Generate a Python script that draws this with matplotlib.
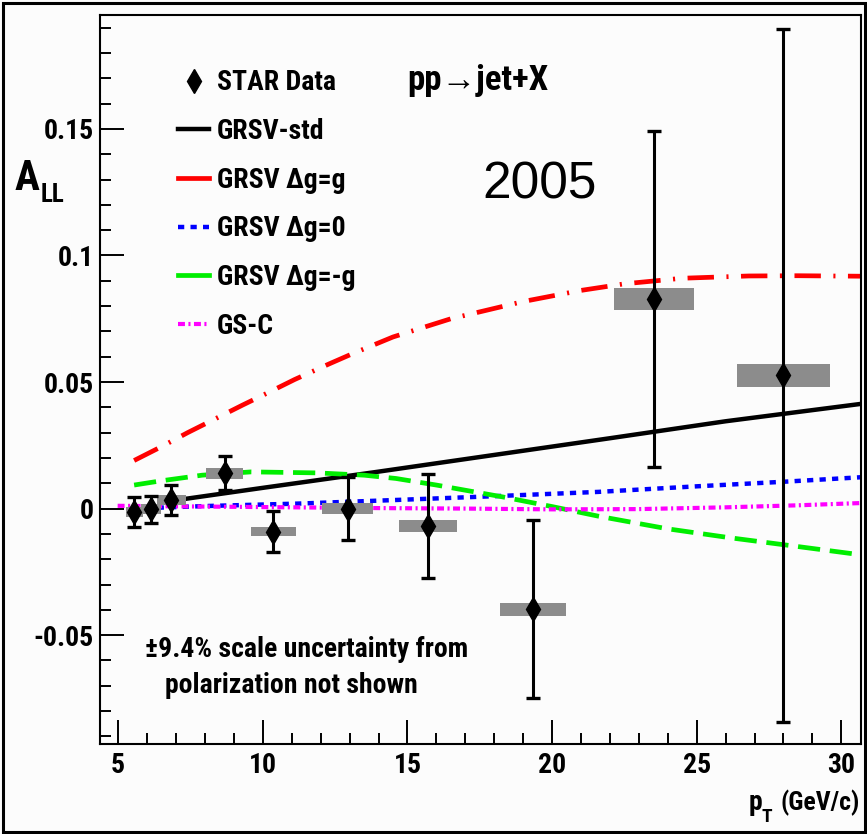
import matplotlib
matplotlib.use("Agg")
import matplotlib.pyplot as plt
from matplotlib.lines import Line2D
from matplotlib.patches import Rectangle
from matplotlib.ticker import MultipleLocator, FuncFormatter

# data
pt = [5.56, 6.14, 6.83, 8.68, 10.36, 12.93, 15.70, 19.34, 23.53, 28.00]
all_vals = [-0.0013, -0.0003, 0.0033, 0.0139, -0.0091, 0.0, -0.0069, -0.0397, 0.0828, 0.0526]
stat_err = [0.0060, 0.0053, 0.0060, 0.0067, 0.0082, 0.0125, 0.0205, 0.0350, 0.0665, 0.1370]
sys_width = [0.6, 0.7, 1.0, 1.3, 1.55, 1.75, 2.0, 2.3, 2.75, 3.2]
sys_err = [0.0020, 0.0020, 0.0020, 0.0021, 0.0018, 0.0022, 0.0025, 0.0026, 0.0042, 0.0044]

std_x = [6.8, 10.0, 14.0, 18.0, 22.0, 26.0, 30.7]
std_y = [0.0030, 0.0082, 0.0146, 0.0212, 0.0278, 0.0345, 0.0414]

max_x = [5.55, 6.5, 7.4, 8.5, 9.3, 10.2, 11.1, 12.3, 13.1, 14.5, 16.5, 19.0, 21.0, 22.5, 24.5, 26.8, 28.5, 30.7]
max_y = [0.0190, 0.0245, 0.0300, 0.0363, 0.0409, 0.0459, 0.0510, 0.0572, 0.0612, 0.0678, 0.0750, 0.0818,
         0.0862, 0.0888, 0.0910, 0.0919, 0.0920, 0.0918]

zero_x = [5.5, 8.0, 11.3, 14.6, 18.0, 21.6, 25.0, 28.0, 30.7]
zero_y = [0.0, 0.0010, 0.0020, 0.0034, 0.0049, 0.0066, 0.0088, 0.0106, 0.0124]

min_x = [5.55, 6.5, 7.9, 9.6, 11.9, 13.5, 14.6, 16.0, 18.3, 20.0, 21.6, 24.0, 26.2, 28.5, 30.7]
min_y = [0.0093, 0.0110, 0.0132, 0.0145, 0.0141, 0.0132, 0.0119, 0.0093, 0.0046, 0.0008, -0.0030,
         -0.0080, -0.0116, -0.0150, -0.0183]

gsc_x = [4.98, 8.0, 11.0, 14.0, 17.0, 20.0, 23.0, 26.0, 28.5, 30.7]
gsc_y = [0.0011, 0.0008, 0.0005, 0.0002, 0.0, -0.0003, -0.0002, 0.0005, 0.0013, 0.0022]

# ROOT-style condensed helvetica bold
bold_fam = ["Roboto Condensed", "Liberation Sans", "DejaVu Sans"]
plt.rcParams["axes.unicode_minus"] = False
plt.rcParams["lines.scale_dashes"] = False

fig = plt.figure(figsize=(8.67, 8.34), dpi=100, facecolor="#fcfcfc")
ax = fig.add_axes([100 / 867, 90 / 834, 761 / 867, 729 / 834])
ax.set_facecolor("#fcfcfc")

# theory curves
ax.plot(max_x, max_y, color="#ff0000", lw=3.4, dashes=(19, 9, 1.5, 9), zorder=1)
ax.plot(std_x, std_y, color="black", lw=3.2, zorder=1)
ax.plot(zero_x, zero_y, color="#0000ff", lw=3.2, dashes=(4.5, 4.5), zorder=1)
ax.plot(min_x, min_y, color="#00ee00", lw=3.4, dashes=(16, 7), zorder=1)
ax.plot(gsc_x, gsc_y, color="#ff00ff", lw=3.0, dashes=(5, 2.5, 1.5, 2.5), zorder=1)

# systematic boxes
ax.bar(pt, [2 * s for s in sys_err], width=sys_width,
       bottom=[v - s for v, s in zip(all_vals, sys_err)], color="#8c8c8c", zorder=2)

# STAR data
ax.errorbar(pt, all_vals, yerr=stat_err, fmt="d", color="black", ms=12,
            elinewidth=2.2, capsize=4.7, capthick=2.4, zorder=3)

ax.set_xlim(4.37, 30.68)
ax.set_ylim(-0.093, 0.195)
ax.xaxis.set_major_locator(MultipleLocator(5))
ax.xaxis.set_minor_locator(MultipleLocator(1))
ax.yaxis.set_major_locator(MultipleLocator(0.05))
ax.yaxis.set_minor_locator(MultipleLocator(0.01))
ax.yaxis.set_major_formatter(FuncFormatter(lambda v, p: "%g" % round(v, 3)))
ax.tick_params(which="major", direction="in", length=17, width=1.4, pad=6)
ax.tick_params(which="minor", direction="in", length=8, width=1.4)
ax.tick_params(axis="y", pad=4.5)
for s in ax.spines.values():
    s.set_linewidth(1.5)
for lab in ax.get_xticklabels() + ax.get_yticklabels():
    lab.set_family(bold_fam)
    lab.set_weight("bold")
    lab.set_fontsize(20)

# legend
handles = [
    Line2D([], [], marker="d", color="black", ms=12, ls="none"),
    Line2D([], [], color="black", lw=3.2),
    Line2D([], [], color="#ff0000", lw=3.4),
    Line2D([], [], color="#0000ff", lw=3.2, dashes=(4.5, 4.5)),
    Line2D([], [], color="#00ee00", lw=3.4),
    Line2D([], [], color="#ff00ff", lw=3.0, dashes=(5, 2.5, 1.5, 2.5)),
]
labels = ["STAR Data", "GRSV-std", "GRSV \u0394g=g", "GRSV \u0394g=0", "GRSV \u0394g=-g", "GS-C"]
leg = ax.legend(handles, labels, loc="upper left", bbox_to_anchor=(0.1025, 0.9255),
                frameon=False, borderpad=0, borderaxespad=0, handlelength=1.12,
                handletextpad=0.29, labelspacing=0.78,
                prop={"family": bold_fam, "weight": "bold", "size": 20})

# texts
ax.text(0.4034, 0.897, "pp\u2192jet+X", transform=ax.transAxes, ha="left", va="baseline",
        family=bold_fam, weight="bold", fontsize=25)
ax.text(0.578, 0.7486, "2005", transform=ax.transAxes, ha="center", va="baseline",
        family=["Liberation Sans", "DejaVu Sans"], fontsize=37)
fig.text(145 / 867, (834 - 657) / 834, "\u00b19.4% scale uncertainty from", ha="left",
         va="baseline", family=bold_fam, weight="bold", fontsize=20)
fig.text(165 / 867, (834 - 693) / 834, "polarization not shown", ha="left",
         va="baseline", family=bold_fam, weight="bold", fontsize=20)

# axis titles
fig.text(15 / 867, (834 - 190) / 834, "A", ha="left", va="baseline",
         family=bold_fam, weight="bold", fontsize=30)
fig.text(41 / 867, (834 - 202) / 834, "LL", ha="left", va="baseline",
         family=bold_fam, weight="bold", fontsize=18)
fig.text(860 / 867, (834 - 810) / 834, "(GeV/c)", ha="right", va="baseline",
         family=bold_fam, weight="bold", fontsize=18.5)
fig.text(749 / 867, (834 - 810) / 834, "p", ha="left", va="baseline",
         family=bold_fam, weight="bold", fontsize=20)
fig.text(762 / 867, (834 - 822) / 834, "T", ha="left", va="baseline",
         family=bold_fam, weight="bold", fontsize=14)

# outer frame
fig.patches.append(Rectangle((3 / 867, 2 / 834), 862 / 867, 829 / 834, transform=fig.transFigure,
                             fill=False, edgecolor="black", lw=2.2))

fig.savefig("out.png", dpi=100, facecolor=fig.get_facecolor())
